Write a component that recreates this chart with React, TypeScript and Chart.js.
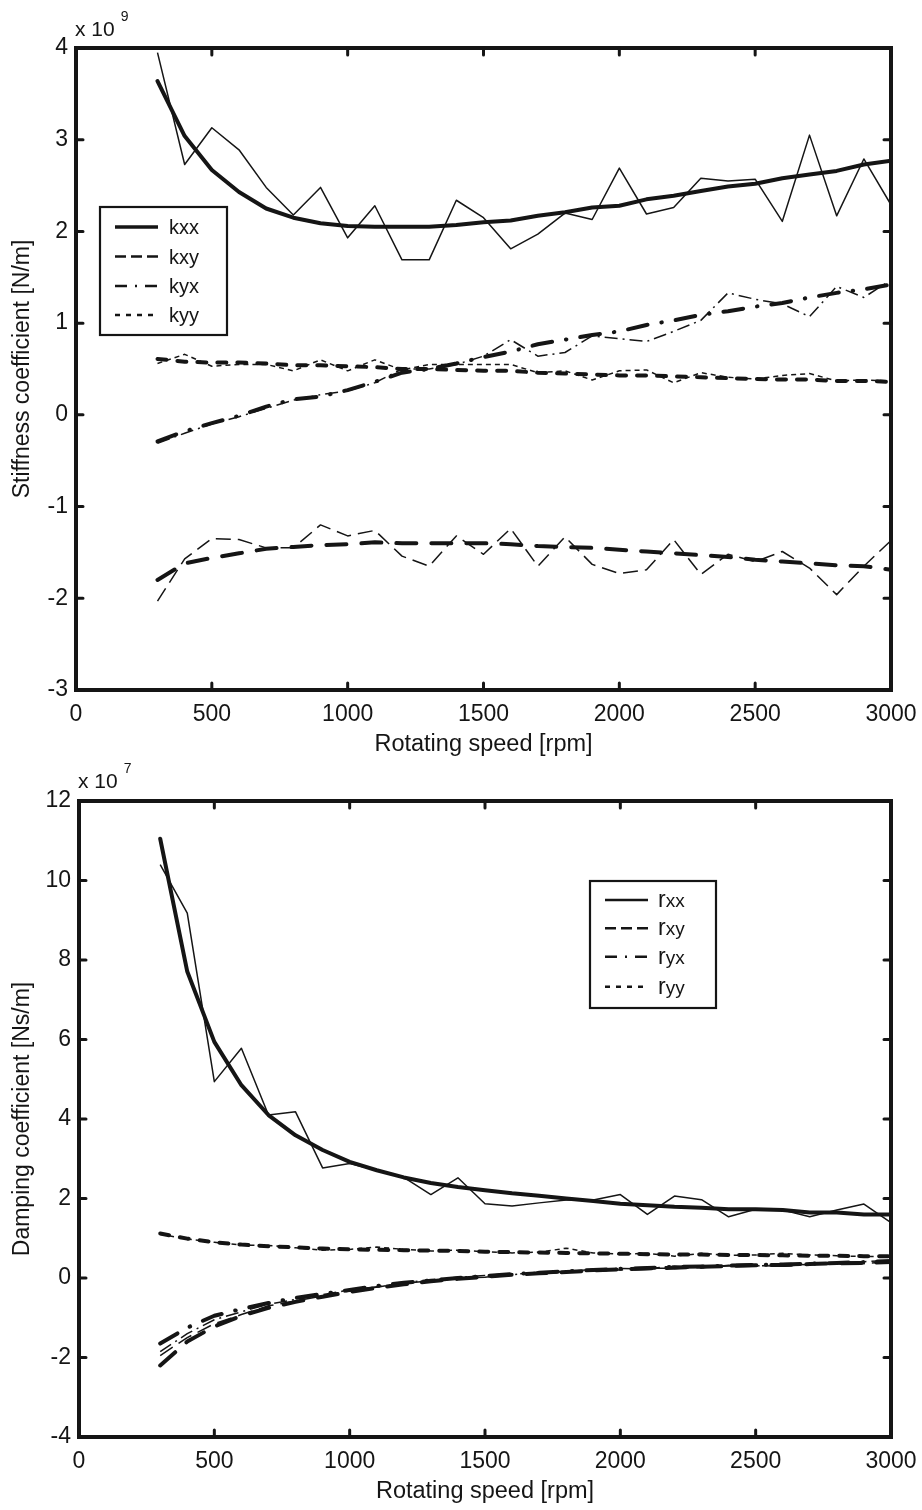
import React, { useEffect, useRef } from 'react';
import { Chart, registerables } from 'chart.js';
Chart.register(...registerables);

const FONT = "'Liberation Sans', Arial, Helvetica, sans-serif";
const INK = '#151515';

// Rotating speed [rpm]
const rpm = [300, 400, 500, 600, 700, 800, 900, 1000, 1100, 1200, 1300, 1400, 1500, 1600, 1700, 1800, 1900, 2000, 2100, 2200, 2300, 2400, 2500, 2600, 2700, 2800, 2900, 3000];

// Stiffness coefficients (x 10^9 N/m): fitted (thick) and identified (thin)
const kxxFit = [3.64, 3.04, 2.67, 2.43, 2.25, 2.15, 2.09, 2.06, 2.05, 2.05, 2.05, 2.07, 2.10, 2.12, 2.17, 2.21, 2.26, 2.28, 2.35, 2.39, 2.44, 2.49, 2.52, 2.58, 2.62, 2.66, 2.73, 2.77];
const kxxMeas = [3.95, 2.73, 3.13, 2.89, 2.48, 2.18, 2.48, 1.93, 2.28, 1.69, 1.69, 2.34, 2.15, 1.81, 1.97, 2.20, 2.13, 2.69, 2.19, 2.26, 2.58, 2.55, 2.57, 2.11, 3.05, 2.17, 2.79, 2.29];
const kxyFit = [-1.80, -1.62, -1.56, -1.51, -1.46, -1.44, -1.42, -1.41, -1.39, -1.40, -1.40, -1.40, -1.40, -1.41, -1.43, -1.44, -1.45, -1.47, -1.49, -1.51, -1.53, -1.55, -1.58, -1.60, -1.62, -1.64, -1.65, -1.69];
const kxyMeas = [-2.03, -1.57, -1.35, -1.36, -1.45, -1.45, -1.20, -1.32, -1.26, -1.54, -1.65, -1.32, -1.52, -1.24, -1.65, -1.33, -1.63, -1.73, -1.69, -1.36, -1.74, -1.52, -1.60, -1.49, -1.67, -1.96, -1.65, -1.37];
const kyxFit = [-0.29, -0.18, -0.09, -0.01, 0.09, 0.17, 0.20, 0.27, 0.36, 0.46, 0.50, 0.56, 0.63, 0.69, 0.77, 0.82, 0.87, 0.91, 0.98, 1.03, 1.09, 1.13, 1.18, 1.22, 1.28, 1.33, 1.37, 1.42];
const kyxMeas = [-0.31, -0.20, -0.10, -0.02, 0.07, 0.16, 0.22, 0.26, 0.35, 0.50, 0.50, 0.55, 0.64, 0.82, 0.64, 0.68, 0.86, 0.83, 0.80, 0.91, 1.03, 1.33, 1.26, 1.21, 1.07, 1.40, 1.28, 1.47];
const kyyFit = [0.61, 0.58, 0.57, 0.57, 0.56, 0.54, 0.54, 0.53, 0.52, 0.50, 0.50, 0.49, 0.48, 0.48, 0.46, 0.45, 0.44, 0.43, 0.43, 0.42, 0.41, 0.40, 0.39, 0.385, 0.385, 0.37, 0.37, 0.36];
const kyyMeas = [0.56, 0.66, 0.53, 0.55, 0.55, 0.48, 0.60, 0.48, 0.60, 0.49, 0.55, 0.55, 0.55, 0.55, 0.46, 0.48, 0.38, 0.48, 0.49, 0.35, 0.46, 0.41, 0.39, 0.43, 0.45, 0.37, 0.38, 0.37];

// Damping coefficients (x 10^7 Ns/m)
const rxxFit = [11.05, 7.71, 5.94, 4.85, 4.10, 3.59, 3.22, 2.92, 2.71, 2.53, 2.39, 2.29, 2.21, 2.13, 2.07, 2.00, 1.94, 1.87, 1.83, 1.79, 1.77, 1.73, 1.73, 1.71, 1.65, 1.65, 1.60, 1.60];
const rxxMeas = [10.40, 9.18, 4.94, 5.78, 4.10, 4.18, 2.77, 2.88, 2.71, 2.53, 2.10, 2.52, 1.87, 1.81, 1.89, 1.96, 1.96, 2.10, 1.60, 2.06, 1.97, 1.54, 1.73, 1.71, 1.54, 1.71, 1.86, 1.39];
const rxyFit = [-2.20, -1.60, -1.22, -0.95, -0.75, -0.60, -0.47, -0.35, -0.25, -0.16, -0.08, -0.02, 0.03, 0.08, 0.12, 0.15, 0.19, 0.22, 0.24, 0.26, 0.28, 0.30, 0.32, 0.33, 0.35, 0.37, 0.38, 0.40];
const rxyMeas = [-1.95, -1.50, -1.15, -0.92, -0.70, -0.58, -0.45, -0.33, -0.22, -0.14, -0.07, 0.00, 0.02, 0.10, 0.12, 0.14, 0.20, 0.20, 0.25, 0.24, 0.27, 0.30, 0.31, 0.30, 0.34, 0.38, 0.36, 0.42];
const ryxFit = [-1.65, -1.25, -0.95, -0.78, -0.63, -0.50, -0.40, -0.30, -0.20, -0.12, -0.06, 0.00, 0.05, 0.10, 0.13, 0.17, 0.20, 0.23, 0.25, 0.28, 0.29, 0.31, 0.33, 0.34, 0.36, 0.38, 0.40, 0.43];
const ryxMeas = [-1.85, -1.40, -1.05, -0.85, -0.66, -0.54, -0.42, -0.30, -0.23, -0.12, -0.04, 0.02, 0.06, 0.08, 0.15, 0.16, 0.22, 0.24, 0.23, 0.30, 0.26, 0.32, 0.30, 0.35, 0.33, 0.39, 0.41, 0.44];
const ryyFit = [1.12, 0.99, 0.90, 0.84, 0.80, 0.77, 0.74, 0.72, 0.71, 0.70, 0.69, 0.68, 0.66, 0.65, 0.64, 0.63, 0.62, 0.61, 0.60, 0.59, 0.59, 0.58, 0.58, 0.57, 0.56, 0.56, 0.55, 0.55];
const ryyMeas = [1.10, 0.98, 0.90, 0.83, 0.82, 0.76, 0.70, 0.72, 0.78, 0.72, 0.68, 0.70, 0.66, 0.63, 0.65, 0.75, 0.63, 0.60, 0.62, 0.55, 0.62, 0.57, 0.58, 0.62, 0.58, 0.56, 0.54, 0.55];

const xTicks = { min: 0, max: 3000, step: 500 };
const kTicks = { min: -3, max: 4, step: 1 };
const rTicks = { min: -4, max: 12, step: 2 };

const subLabels = ['xx', 'xy', 'yx', 'yy'];

type Style = 'solid' | 'dash' | 'dashdot' | 'dot';
const STYLES: Style[] = ['solid', 'dash', 'dashdot', 'dot'];
const thickDash: Record<Style, number[]> = { solid: [], dash: [20, 15], dashdot: [20, 14, 0.5, 14], dot: [9, 11] };
const thinDash: Record<Style, number[]> = { solid: [], dash: [15, 7], dashdot: [13, 5, 2, 5], dot: [5, 4] };
const legendDash: Record<Style, number[]> = { solid: [], dash: [11, 5], dashdot: [12, 8, 2, 8], dot: [5, 6] };

function series(vals: number[], style: Style, thick: boolean) {
  return {
    data: rpm.map((x, i) => ({ x, y: vals[i] })),
    borderColor: INK,
    borderWidth: thick ? 4 : 1.5,
    borderDash: thick ? thickDash[style] : thinDash[style],
    borderCapStyle: thick ? 'round' : 'butt',
    borderJoinStyle: 'round',
    pointRadius: 0,
    tension: 0,
    fill: false,
  };
}

interface Cfg {
  fits: number[][];
  meas: number[][];
  yT: { min: number; max: number; step: number };
  yTitle: string;
  exp: string;
  letter: string;
  letterSize: number;
  subSize: number;
  areaTop: number;
  areaLeft: number;
  xHeight: number;
  xTitlePad: number;
  legend: { x0: number; y0: number; x1: number; y1: number; rows: number[]; lx0: number; lx1: number; tx: number; solidW: number };
  expPos: { x: number; y: number };
  yTitlePad: number;
}

function makePlugin(cfg: Cfg) {
  return {
    id: 'matlabDecor',
    afterDatasetsDraw(chart: any) {
      const { ctx, chartArea } = chart;
      const { left, right, top, bottom } = chartArea;
      const xs = chart.scales.x;
      const ys = chart.scales.y;
      ctx.save();
      // frame
      ctx.strokeStyle = INK;
      ctx.lineWidth = 4;
      ctx.setLineDash([]);
      ctx.strokeRect(left, top, right - left, bottom - top);
      // inward ticks on all sides
      ctx.lineWidth = 3;
      ctx.lineCap = 'round';
      const tl = 7;
      ctx.beginPath();
      xs.ticks.forEach((t: any) => {
        const p = xs.getPixelForValue(t.value);
        ctx.moveTo(p, bottom); ctx.lineTo(p, bottom - tl);
        ctx.moveTo(p, top); ctx.lineTo(p, top + tl);
      });
      ys.ticks.forEach((t: any) => {
        const p = ys.getPixelForValue(t.value);
        ctx.moveTo(left, p); ctx.lineTo(left + tl, p);
        ctx.moveTo(right, p); ctx.lineTo(right - tl, p);
      });
      ctx.stroke();

      // exponent label
      ctx.fillStyle = INK;
      ctx.textBaseline = 'alphabetic';
      ctx.textAlign = 'left';
      ctx.font = `21px ${FONT}`;
      ctx.fillText('x 10', cfg.expPos.x, cfg.expPos.y);
      const w = ctx.measureText('x 10').width;
      ctx.font = `14px ${FONT}`;
      ctx.fillText(cfg.exp, cfg.expPos.x + w + 6, cfg.expPos.y - 15);

      // legend
      const L = cfg.legend;
      ctx.fillStyle = '#ffffff';
      ctx.fillRect(L.x0, L.y0, L.x1 - L.x0, L.y1 - L.y0);
      ctx.strokeStyle = INK;
      ctx.lineWidth = 2.2;
      ctx.lineCap = 'butt';
      ctx.strokeRect(L.x0, L.y0, L.x1 - L.x0, L.y1 - L.y0);
      STYLES.forEach((st, i) => {
        const y = L.rows[i];
        ctx.beginPath();
        ctx.lineWidth = st === 'solid' ? L.solidW : 2.6;
        ctx.setLineDash(legendDash[st]);
        ctx.moveTo(L.lx0, y);
        ctx.lineTo(L.lx1, y);
        ctx.stroke();
        ctx.setLineDash([]);
        ctx.fillStyle = INK;
        ctx.textBaseline = 'alphabetic';
        ctx.font = `${cfg.letterSize}px ${FONT}`;
        const base = y + 7;
        ctx.fillText(cfg.letter, L.tx, base);
        const lw = ctx.measureText(cfg.letter).width;
        ctx.font = `${cfg.subSize}px ${FONT}`;
        ctx.fillText(subLabels[i], L.tx + lw, base);
      });
      ctx.restore();
    },
  };
}

function buildChart(canvas: HTMLCanvasElement, cfg: Cfg) {
  const datasets: any[] = [];
  STYLES.forEach((st, i) => {
    datasets.push(series(cfg.meas[i], st, false));
    datasets.push(series(cfg.fits[i], st, true));
  });
  const canvasW = 922;
  const areaRight = 891;
  return new Chart(canvas, {
    type: 'line',
    data: { datasets },
    options: {
      responsive: false,
      animation: false,
      events: [],
      layout: { padding: { top: cfg.areaTop, right: canvasW - areaRight, left: 0, bottom: 0 } },
      plugins: { legend: { display: false }, tooltip: { enabled: false } },
      scales: {
        x: {
          type: 'linear',
          min: xTicks.min,
          max: xTicks.max,
          ticks: { stepSize: xTicks.step, color: INK, font: { family: FONT, size: 23 }, padding: 10.5, maxRotation: 0, autoSkip: false, callback: (v: any) => String(v) },
          grid: { display: false, drawTicks: false },
          border: { display: false },
          title: { display: true, text: 'Rotating speed [rpm]', color: INK, font: { family: FONT, size: 23.5, lineHeight: 1 }, padding: { top: 0, bottom: cfg.xTitlePad } },
          afterFit: (s: any) => { s.height = cfg.xHeight; s.paddingLeft = 0; s.paddingRight = 0; },
        },
        y: {
          type: 'linear',
          min: cfg.yT.min,
          max: cfg.yT.max,
          ticks: { stepSize: cfg.yT.step, color: INK, font: { family: FONT, size: 23 }, padding: 8, autoSkip: false, callback: (v: any) => String(v) },
          grid: { display: false, drawTicks: false },
          border: { display: false },
          title: { display: true, text: cfg.yTitle, color: INK, font: { family: FONT, size: 23, lineHeight: 1 }, padding: { top: cfg.yTitlePad, bottom: 0 } },
          afterFit: (s: any) => { s.width = cfg.areaLeft; s.paddingTop = 0; s.paddingBottom = 0; },
        },
      },
    } as any,
    plugins: [makePlugin(cfg)],
  });
}

const topCfg: Cfg = {
  fits: [kxxFit, kxyFit, kyxFit, kyyFit],
  meas: [kxxMeas, kxyMeas, kyxMeas, kyyMeas],
  yT: kTicks,
  yTitle: 'Stiffness coefficient [N/m]',
  exp: '9',
  letter: 'k',
  letterSize: 20,
  subSize: 20,
  areaTop: 48,
  areaLeft: 76,
  xHeight: 70,
  xTitlePad: 3.5,
  legend: { x0: 100, y0: 207, x1: 227, y1: 335, rows: [227, 256.5, 286, 315], lx0: 115, lx1: 158, tx: 169, solidW: 3.4 },
  expPos: { x: 75, y: 36 },
  yTitlePad: 11,
};

const botCfg: Cfg = {
  fits: [rxxFit, rxyFit, ryxFit, ryyFit],
  meas: [rxxMeas, rxyMeas, ryxMeas, ryyMeas],
  yT: rTicks,
  yTitle: 'Damping coefficient [Ns/m]',
  exp: '7',
  letter: 'r',
  letterSize: 23,
  subSize: 19,
  areaTop: 41,
  areaLeft: 79,
  xHeight: 73,
  xTitlePad: 6.5,
  legend: { x0: 590, y0: 121, x1: 716, y1: 248, rows: [140, 168.3, 196.7, 226.7], lx0: 605, lx1: 648, tx: 658, solidW: 2.6 },
  expPos: { x: 78, y: 28 },
  yTitlePad: 11,
};

export default function App() {
  const c1 = useRef<HTMLCanvasElement>(null);
  const c2 = useRef<HTMLCanvasElement>(null);
  useEffect(() => {
    document.body.style.margin = '0';
    document.body.style.background = '#ffffff';
    const a = buildChart(c1.current!, topCfg);
    const b = buildChart(c2.current!, botCfg);
    return () => { a.destroy(); b.destroy(); };
  }, []);
  return (
    <div style={{ position: 'relative', width: 922, height: 1510, background: '#fff' }}>
      <canvas ref={c1} width={922} height={760} style={{ position: 'absolute', left: 0, top: 0, width: 922, height: 760 }} />
      <canvas ref={c2} width={922} height={750} style={{ position: 'absolute', left: 0, top: 760, width: 922, height: 750 }} />
    </div>
  );
}
